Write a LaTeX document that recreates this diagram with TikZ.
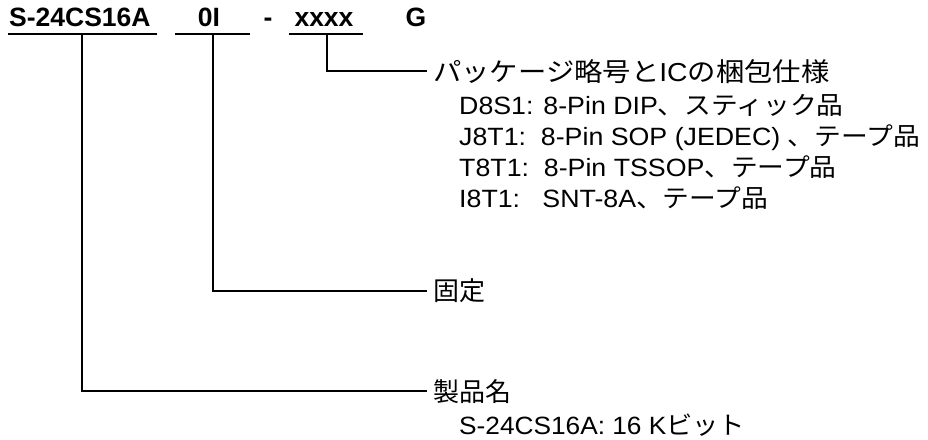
\documentclass[tikz,border=0pt]{standalone}
\usepackage{fontspec}
\setmainfont{Liberation Sans}
\newfontfamily\jp{Noto Sans CJK JP}
\begin{document}
\begin{tikzpicture}[x=1pt,y=-1pt,
  code/.style={inner sep=0pt,anchor=base,font=\fontsize{26.5}{30}\selectfont\bfseries},
  lab/.style={inner sep=0pt,anchor=base west,font=\fontsize{25}{28}\selectfont},
  head/.style={inner sep=0pt,anchor=base west,font=\fontsize{26}{28}\selectfont},
  wire/.style={line width=2pt},
  uline/.style={line width=2pt}]
\useasboundingbox (0,0) rectangle (928,439);
% code string
\node[code,anchor=base west] (c1) at (9,27) {S-24CS16A};
\node[code] (c2) at (209,27) {0I};
\node[code] (c3) at (268,27) {-};
\node[code] (c4) at (324,27) {xxxx};
\node[code] (c5) at (416,27) {G};
% underlines
\coordinate (u1a) at (8,34); \coordinate (u1b) at (157,34);
\coordinate (u2a) at (175,34); \coordinate (u2b) at (250,34);
\coordinate (u3a) at (289,34); \coordinate (u3b) at (363,34);
\draw[uline] (u1a) -- (u1b);
\draw[uline] (u2a) -- (u2b);
\draw[uline] (u3a) -- (u3b);
\coordinate (t1) at (82,34);
\coordinate (t2) at (213,34);
\coordinate (t3) at (327,34);
% labels
\node[head] (pkg) at (433,81) {\scalebox{1.09}[1]{{\jp パッケージ略号と}IC{\jp の梱包仕様}}};
\node[lab] (p1) at (459,114) {\scalebox{1.07}[1]{D8S1: 8-Pin DIP{\jp 、スティック品}}};
\node[lab] (p2) at (459,145) {\scalebox{1.07}[1]{J8T1:\ \ 8-Pin SOP (JEDEC) {\jp 、テープ品}}};
\node[lab] (p3) at (459,176) {\scalebox{1.07}[1]{T8T1:\ \ 8-Pin TSSOP{\jp 、テープ品}}};
\node[lab] (p4) at (459,207) {\scalebox{1.07}[1]{I8T1:\ \ \ SNT-8A{\jp 、テープ品}}};
\node[head] (fix) at (433,300) {\jp 固定};
\node[head] (prod) at (433,401) {\jp 製品名};
\node[lab] (pr1) at (459,434) {\scalebox{1.05}[1]{S-24CS16A: 16 K{\jp ビット}}};
% connectors
\coordinate (e3) at (427,71);
\coordinate (e2) at (427,291);
\coordinate (e1) at (427,391);
\draw[wire] (t3) |- (e3);
\draw[wire] (t2) |- (e2);
\draw[wire] (t1) |- (e1);
\end{tikzpicture}
\end{document}
